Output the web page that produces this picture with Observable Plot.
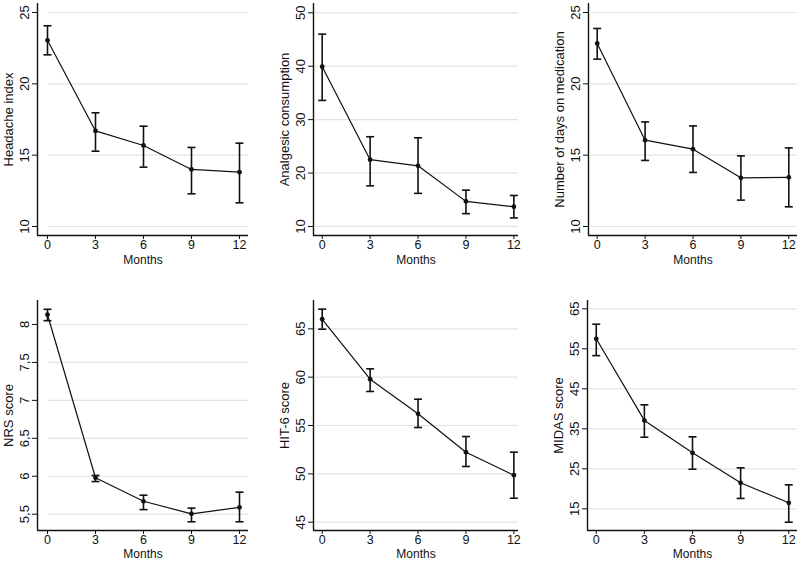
<!DOCTYPE html>
<html>
<head>
<meta charset="utf-8">
<script src="https://cdn.jsdelivr.net/npm/d3@7"></script>
<script src="https://cdn.jsdelivr.net/npm/@observablehq/plot@0.6"></script>
<style>
  html, body { margin: 0; padding: 0; background: #fff; }
  #wrap { position: relative; width: 800px; height: 561px; background: #fff; overflow: hidden; }
  .panel { position: absolute; }
</style>
</head>
<body>
<div id="wrap"></div>
<script>
// ---- data ----
const months = [0, 3, 6, 9, 12];

const headacheMean = [23.05, 16.7, 15.68, 14.0, 13.81];
const headacheLo   = [22.03, 15.28, 14.16, 12.29, 11.66];
const headacheHi   = [24.07, 17.97, 17.03, 15.54, 15.84];

const analgesicMean = [39.9, 22.5, 21.35, 14.7, 13.7];
const analgesicLo   = [33.6, 17.6, 16.2, 12.4, 11.6];
const analgesicHi   = [46.0, 26.8, 26.6, 16.8, 15.8];

const daysMean = [22.83, 16.05, 15.42, 13.41, 13.45];
const daysLo   = [21.73, 14.63, 13.79, 11.85, 11.38];
const daysHi   = [23.88, 17.33, 17.05, 14.95, 15.51];

const nrsMean = [8.128, 5.98, 5.67, 5.505, 5.59];
const nrsLo   = [8.05, 5.93, 5.56, 5.40, 5.40];
const nrsHi   = [8.20, 6.01, 5.75, 5.58, 5.79];

const hitMean = [65.99, 59.79, 56.21, 52.24, 49.86];
const hitLo   = [64.96, 58.52, 54.79, 50.76, 47.48];
const hitHi   = [67.03, 60.86, 57.72, 53.86, 52.24];

const midasMean = [57.5, 37.1, 29.0, 21.5, 16.5];
const midasLo   = [53.3, 32.9, 24.9, 17.6, 11.65];
const midasHi   = [61.15, 41.0, 33.0, 25.25, 21.0];

const yTicks1 = [10, 15, 20, 25];
const yTicks2 = [10, 20, 30, 40, 50];
const yTicks3 = [10, 15, 20, 25];
const yTicks4 = [5.5, 6, 6.5, 7, 7.5, 8];
const yTicks5 = [45, 50, 55, 60, 65];
const yTicks6 = [15, 25, 35, 45, 55, 65];

const yLabels = ["Headache index", "Analgesic consumption", "Number of days on medication",
                 "NRS score", "HIT-6 score", "MIDAS score"];
const xLabel = "Months";

// ---- panel layout ----
const panels = [
  {label: yLabels[0], mean: headacheMean, lo: headacheLo, hi: headacheHi, ticks: yTicks1,
   left: 0, top: 0, width: 265, height: 280, mL: 37, mR: 17, mT: 3, mB: 45,
   xd: [-0.625, 12.5625], yd: [9.37, 25.63], grid: 11, row: 0},
  {label: yLabels[1], mean: analgesicMean, lo: analgesicLo, hi: analgesicHi, ticks: yTicks2,
   left: 265, top: 0, width: 265, height: 280, mL: 48, mR: 12, mT: 3, mB: 45,
   xd: [-0.545, 12.29], yd: [8.31, 51.74], grid: 2, row: 0},
  {label: yLabels[2], mean: daysMean, lo: daysLo, hi: daysHi, ticks: yTicks3,
   left: 530, top: 0, width: 270, height: 280, mL: 58, mR: 3, mT: 3, mB: 45,
   xd: [-0.545, 12.545], yd: [9.37, 25.63], grid: 2, row: 0},
  {label: yLabels[3], mean: nrsMean, lo: nrsLo, hi: nrsHi, ticks: yTicks4,
   left: 0, top: 280, width: 265, height: 281, mL: 37, mR: 17, mT: 20, mB: 31,
   xd: [-0.625, 12.5625], yd: [5.285, 8.316], grid: 11, row: 1},
  {label: yLabels[4], mean: hitMean, lo: hitLo, hi: hitHi, ticks: yTicks5,
   left: 265, top: 280, width: 265, height: 281, mL: 48, mR: 12, mT: 20, mB: 31,
   xd: [-0.545, 12.29], yd: [44.14, 67.93], grid: 2, row: 1},
  {label: yLabels[5], mean: midasMean, lo: midasLo, hi: midasHi, ticks: yTicks6,
   left: 530, top: 280, width: 270, height: 281, mL: 57, mR: 3, mT: 20, mB: 31,
   xd: [-0.545, 12.545], yd: [9.58, 67.08], grid: 2, row: 1}
];

const capSymbol = {
  draw(ctx, size) {
    const r = Math.sqrt(size / Math.PI);
    ctx.moveTo(-r, 0);
    ctx.lineTo(r, 0);
  }
};

const fmt = d => String(d).replace(".", ",");
const wrap = document.getElementById("wrap");
const ink = "#111";

for (const p of panels) {
  const rows = months.map((m, i) => ({month: m, mean: p.mean[i], lo: p.lo[i], hi: p.hi[i]}));
  const chart = Plot.plot({
    width: p.width,
    height: p.height,
    marginLeft: p.mL,
    marginRight: p.mR,
    marginTop: p.mT,
    marginBottom: p.mB,
    style: {fontFamily: "'Liberation Sans', Arial, sans-serif", fontSize: "13px", background: "transparent", color: ink},
    x: {domain: p.xd},
    y: {domain: p.yd},
    marks: [
      Plot.ruleY(p.ticks, {stroke: "#e3e3e3", strokeWidth: 1.2, insetLeft: p.grid}),
      Plot.axisY({ticks: p.ticks, tickSize: 5, tickRotate: -90, tickFormat: fmt, label: null, stroke: ink}),
      Plot.axisX({ticks: months, tickSize: 4, tickPadding: 1, fontSize: 12.5, label: null, stroke: ink}),
      Plot.ruleX([p.xd[0]], {stroke: ink, strokeWidth: 1.4}),
      Plot.ruleY([p.yd[0]], {stroke: ink, strokeWidth: 1.4}),
      Plot.text([xLabel], {frameAnchor: "bottom", dy: p.row ? 23.5 : 25, lineAnchor: "middle", fontSize: 12, fill: ink}),
      Plot.text([p.label], {frameAnchor: "left", rotate: -90, dx: -29, lineAnchor: "middle", textAnchor: "middle", fill: ink}),
      Plot.ruleX(rows, {x: "month", y1: "lo", y2: "hi", stroke: ink, strokeWidth: 1.6}),
      Plot.dot(rows, {x: "month", y: "lo", symbol: capSymbol, r: 4, stroke: ink, fill: "none", strokeWidth: 1.6}),
      Plot.dot(rows, {x: "month", y: "hi", symbol: capSymbol, r: 4, stroke: ink, fill: "none", strokeWidth: 1.6}),
      Plot.line(rows, {x: "month", y: "mean", stroke: ink, strokeWidth: 1.2}),
      Plot.dot(rows, {x: "month", y: "mean", r: 2.4, fill: ink, stroke: "none"})
    ]
  });
  const div = document.createElement("div");
  div.className = "panel";
  div.style.left = p.left + "px";
  div.style.top = p.top + "px";
  div.appendChild(chart);
  wrap.appendChild(div);
}
</script>
</body>
</html>
